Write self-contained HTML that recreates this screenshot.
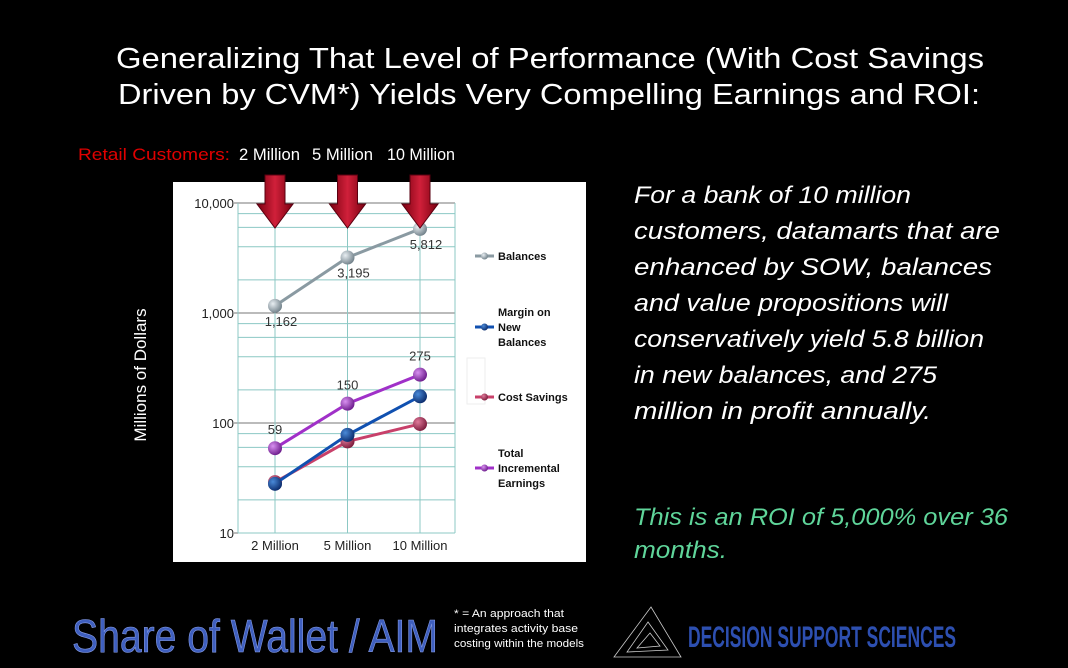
<!DOCTYPE html>
<html><head><meta charset="utf-8"><style>
html,body{margin:0;padding:0;background:#000;}
svg{display:block;font-family:"Liberation Sans",sans-serif;}
</style></head><body>
<svg id="s" width="1068" height="668" viewBox="0 0 1068 668">
<defs>
<radialGradient id="gGray" cx="35%" cy="35%" r="70%"><stop offset="0" stop-color="#e8eef2"/><stop offset="1" stop-color="#6f7f88"/></radialGradient>
<radialGradient id="gBlue" cx="35%" cy="35%" r="70%"><stop offset="0" stop-color="#4a8ad8"/><stop offset="1" stop-color="#0a2a6a"/></radialGradient>
<radialGradient id="gPink" cx="35%" cy="35%" r="70%"><stop offset="0" stop-color="#e07a9a"/><stop offset="1" stop-color="#7a1a3a"/></radialGradient>
<radialGradient id="gPurp" cx="35%" cy="35%" r="70%"><stop offset="0" stop-color="#d890f0"/><stop offset="1" stop-color="#6a1a8a"/></radialGradient>
<linearGradient id="gArrow" x1="0" x2="1"><stop offset="0" stop-color="#7a0010"/><stop offset="0.5" stop-color="#d0203a"/><stop offset="1" stop-color="#7a0010"/></linearGradient>
</defs>
<rect width="1068" height="668" fill="#000"/>
<g fill="#fff" font-size="29">
<text x="116" y="68" textLength="868" lengthAdjust="spacingAndGlyphs">Generalizing That Level of Performance (With Cost Savings</text>
<text x="118" y="104" textLength="862" lengthAdjust="spacingAndGlyphs">Driven by CVM*) Yields Very Compelling Earnings and ROI:</text>
</g>
<g font-size="17">
<text x="78" y="160" fill="#e00000" textLength="152" lengthAdjust="spacingAndGlyphs">Retail Customers:</text>
<text x="239" y="160" fill="#fff" textLength="61" lengthAdjust="spacingAndGlyphs">2 Million</text>
<text x="312" y="160" fill="#fff" textLength="61" lengthAdjust="spacingAndGlyphs">5 Million</text>
<text x="387" y="160" fill="#fff" textLength="68" lengthAdjust="spacingAndGlyphs">10 Million</text>
</g>
<rect x="173" y="182" width="413" height="380" fill="#fff"/>
<g id="grid"></g>
<g id="marks"></g>
<g id="arrows"></g>
<text x="146" y="375" fill="#fff" font-size="17" transform="rotate(-90 146 375)" text-anchor="middle">Millions of Dollars</text>
<rect x="467" y="358" width="18" height="46" fill="none" stroke="#eee"/>
<g id="legend" font-size="11" font-weight="bold" fill="#111"></g>
<g fill="#fff" font-size="24" font-style="italic">
<text x="634" y="203" textLength="277" lengthAdjust="spacingAndGlyphs">For a bank of 10 million</text>
<text x="634" y="239" textLength="366" lengthAdjust="spacingAndGlyphs">customers, datamarts  that are</text>
<text x="634" y="275" textLength="358" lengthAdjust="spacingAndGlyphs">enhanced by SOW, balances</text>
<text x="634" y="311" textLength="314" lengthAdjust="spacingAndGlyphs">and value propositions will</text>
<text x="634" y="347" textLength="350" lengthAdjust="spacingAndGlyphs">conservatively yield 5.8 billion</text>
<text x="634" y="383" textLength="303" lengthAdjust="spacingAndGlyphs">in new balances, and 275</text>
<text x="634" y="419" textLength="297" lengthAdjust="spacingAndGlyphs">million in profit annually.</text>
</g>
<g fill="#5fd59a" font-size="24" font-style="italic">
<text x="634" y="525" textLength="374" lengthAdjust="spacingAndGlyphs">This is an ROI of 5,000% over 36</text>
<text x="634" y="558" textLength="93" lengthAdjust="spacingAndGlyphs">months.</text>
</g>
<text x="72" y="652" fill="#3f5fbf" stroke="#8aa0e8" stroke-width="0.6" font-size="46" font-family="'Liberation Sans Narrow','Liberation Sans',sans-serif" textLength="366" lengthAdjust="spacingAndGlyphs">Share of Wallet / AIM</text>
<g fill="#fff" font-size="11">
<text x="454" y="617" textLength="110" lengthAdjust="spacingAndGlyphs">* = An approach that</text>
<text x="454" y="632" textLength="124" lengthAdjust="spacingAndGlyphs">integrates activity base</text>
<text x="454" y="647" textLength="130" lengthAdjust="spacingAndGlyphs">costing within the models</text>
</g>
<g stroke="#ccc" fill="none" stroke-width="0.8">
<polygon points="651,607 614,657 681,657"/><polygon points="648,622 627,652 668,650"/><polygon points="650,633 637,648 660,646"/>
</g>
<text x="688" y="647" fill="#2d4fb0" font-size="30" font-weight="bold" textLength="268" lengthAdjust="spacingAndGlyphs">DECISION SUPPORT SCIENCES</text>
</svg>
<script>
const categories = ["2 Million","5 Million","10 Million"];
const balances = [1162, 3195, 5812];
const margin = [28, 78, 175];
const costSavings = [29, 68, 98];
const totalEarnings = [59, 150, 275];
const yTicks = [10, 100, 1000, 10000];
const yTickLabels = ["10","100","1,000","10,000"];
const minorMultiples = [2, 4, 6, 8];
const NS = "http://www.w3.org/2000/svg";
const X0 = 238, X1 = 455, Y10 = 533, DEC = 110;
function xPos(i){ return 275 + i * 72.5; }
function yPos(v){ return Y10 - (Math.log10(v) - 1) * DEC; }
function mk(tag, attrs, parent){ const e = document.createElementNS(NS, tag); for (const k in attrs) e.setAttribute(k, attrs[k]); parent.appendChild(e); return e; }
const grid = document.getElementById('grid');
for (let d = 1; d <= 3; d++) minorMultiples.forEach(m => {
  const v = Math.pow(10, d) * m;
  const gl = mk('line', {x1:X0, x2:X1, y1:yPos(v), y2:yPos(v), stroke:'#8cc8c4', 'stroke-width':1}, grid);
  
  
});
yTicks.forEach((t, i) => {
  const gl = mk('line', {x1:X0-4, x2:X1, y1:yPos(t), y2:yPos(t), stroke:'#777', 'stroke-width':1}, grid);
  
  
  const tx = mk('text', {x:X0-4, y:yPos(t)+5, 'text-anchor':'end', 'font-size':13, fill:'#222'}, grid);
  tx.textContent = yTickLabels[i];
  
  
});
categories.forEach((c, i) => {
  const vl = mk('line', {x1:xPos(i), x2:xPos(i), y1:yPos(10000), y2:Y10, stroke:'#8cc8c4'}, grid);
  
  
  const tx = mk('text', {x:xPos(i), y:550, 'text-anchor':'middle', 'font-size':13, fill:'#222'}, grid);
  tx.textContent = c;
  
  
});
[X0, X1].forEach(x => { const l = mk('line', {x1:x, x2:x, y1:yPos(10000), y2:Y10, stroke:'#8cc8c4'}, grid);   });
const bl = mk('line', {x1:X0, x2:X1, y1:Y10, y2:Y10, stroke:'#8cc8c4'}, grid);



const series = [
  {name:'balances', data:balances, color:'#8a9aa2', grad:'gGray', labels:true, below:true},
  {name:'cost-savings', data:costSavings, color:'#c8406a', grad:'gPink'},
  {name:'margin', data:margin, color:'#1050b0', grad:'gBlue'},
  {name:'total-earnings', data:totalEarnings, color:'#a030c8', grad:'gPurp', labels:true}
];
const marks = document.getElementById('marks');
series.forEach(s => {
  const pts = s.data.map((v, i) => xPos(i) + ',' + yPos(v)).join(' ');
  const pl = mk('polyline', {points:pts, fill:'none', stroke:s.color, 'stroke-width':3}, marks);
  
  
  s.data.forEach((v, i) => {
    const c = mk('circle', {cx:xPos(i), cy:yPos(v), r:7, fill:'url(#' + s.grad + ')'}, marks);
    
    
    if (s.labels) {
      const t = mk('text', {x:xPos(i) + (s.below ? 6 : 0), y:s.below ? yPos(v) + 20 : yPos(v) - 14, 'text-anchor':'middle', 'font-size':13, fill:'#333'}, marks);
      t.textContent = v.toLocaleString('en-US');
      
      
    }
  });
});
const arrows = document.getElementById('arrows');
categories.forEach((c, i) => {
  const x = xPos(i);
  const a = mk('polygon', {points:`${x-10},175 ${x+10},175 ${x+10},204 ${x+18},204 ${x},228 ${x-18},204 ${x-10},204`, fill:'url(#gArrow)', stroke:'#5a0010', 'stroke-width':1}, arrows);
  
  
});
const legendItems = [
  {lines:['Balances'], y:256, color:'#8a9aa2', grad:'gGray'},
  {lines:['Margin on','New','Balances'], y:327, color:'#1050b0', grad:'gBlue'},
  {lines:['Cost Savings'], y:397, color:'#c8406a', grad:'gPink'},
  {lines:['Total','Incremental','Earnings'], y:468, color:'#a030c8', grad:'gPurp'}
];
const lg = document.getElementById('legend');
legendItems.forEach(it => {
  const l = mk('line', {x1:475, x2:494, y1:it.y, y2:it.y, stroke:it.color, 'stroke-width':3}, lg);
  
  
  const c = mk('circle', {cx:484.5, cy:it.y, r:3.5, fill:'url(#' + it.grad + ')'}, lg);
  
  
  const n = it.lines.length;
  it.lines.forEach((ln, k) => {
    const t = mk('text', {x:498, y:it.y + 4 + (k - (n - 1) / 2) * 15}, lg);
    t.textContent = ln;
    
    
  });
});
</script>
</body></html>
